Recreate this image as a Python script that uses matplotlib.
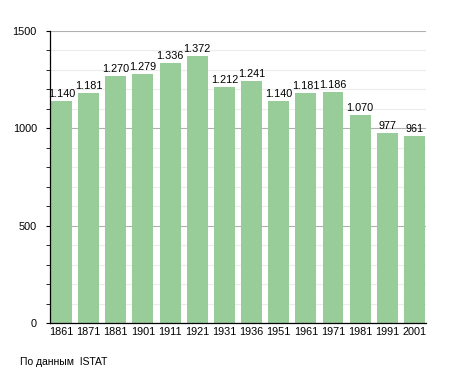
import numpy as np
import matplotlib
matplotlib.use('Agg')
import matplotlib.pyplot as plt
from matplotlib.ticker import MultipleLocator

# Population by census year
years = ['1861', '1871', '1881', '1901', '1911', '1921', '1931',
         '1936', '1951', '1961', '1971', '1981', '1991', '2001']
population = [1140, 1181, 1270, 1279, 1336, 1372, 1212,
              1241, 1140, 1181, 1186, 1070, 977, 961]

plt.rcParams['font.family'] = ['Liberation Sans', 'DejaVu Sans']

fig = plt.figure(figsize=(4.55, 3.73), dpi=100)
ax = fig.add_axes([0.110, 0.134, 0.826, 0.783])

x = np.arange(len(years))
ax.bar(x, population, width=0.77, color='#98cc98', zorder=2)

for xi, v in zip(x, population):
    lab = f'{v:,}'.replace(',', '.')
    ax.text(xi, v + 10, lab, ha='center', va='bottom', fontsize=7.8, zorder=3)

ax.set_xlim(-0.42, len(years) - 0.58)
ax.set_ylim(0, 1500)
ax.set_xticks(x)
ax.set_xticklabels(years)
ax.yaxis.set_major_locator(MultipleLocator(500))
ax.yaxis.set_minor_locator(MultipleLocator(100))

ax.grid(axis='y', which='minor', color='#ececec', linewidth=0.8, zorder=0)
ax.grid(axis='y', which='major', color='#b0b0b0', linewidth=0.8, zorder=0)
ax.set_axisbelow(True)

for s in ['top', 'right']:
    ax.spines[s].set_visible(False)
ax.spines['left'].set_linewidth(0.9)
ax.spines['bottom'].set_linewidth(0.9)

ax.tick_params(axis='x', length=0, labelsize=7.8, pad=3)
ax.tick_params(axis='y', which='major', length=3, labelsize=7.8, pad=6.5)
ax.tick_params(axis='y', which='minor', length=3)

fig.text(20 / 455, 1 - 362 / 373, 'По данным  ISTAT', fontsize=7.5, va='center')

fig.savefig('out.png', dpi=100)
